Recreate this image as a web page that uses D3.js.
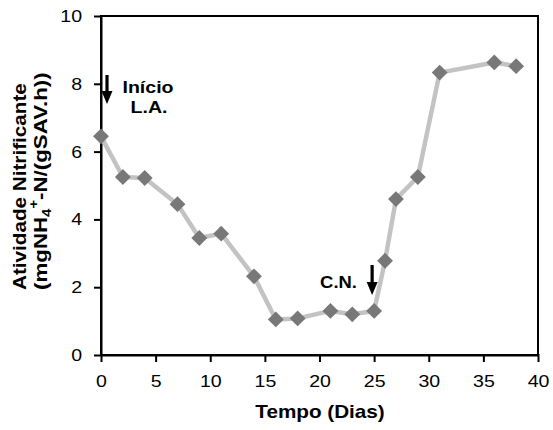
<!DOCTYPE html>
<html><head><meta charset="utf-8">
<script src="https://cdn.jsdelivr.net/npm/d3@7"></script>
<style>body{margin:0;background:#fff}svg{display:block}text{font-family:"Liberation Sans",Arial,sans-serif}</style>
</head><body>
<svg id="c" width="553" height="430"></svg>
<script>
const days = [0, 2, 4, 7, 9, 11, 14, 16, 18, 21, 23, 25, 26, 27, 29, 31, 36, 38];
const activity = [6.45, 5.25, 5.22, 4.45, 3.45, 3.58, 2.32, 1.05, 1.08, 1.3, 1.2, 1.3, 2.78, 4.6, 5.25, 8.33, 8.63, 8.52];
const xTicks = [0, 5, 10, 15, 20, 25, 30, 35, 40];
const yTicks = [0, 2, 4, 6, 8, 10];

const SX = 1.15; // horizontal stretch of the reference typography
const svg = d3.select("#c");
const x = d3.scaleLinear().domain([0, 40]).range([101, 538]);
const y = d3.scaleLinear().domain([0, 10]).range([355, 16]);

// frame
svg.append("rect").attr("x", 101).attr("y", 16).attr("width", 437).attr("height", 339)
  .attr("fill", "none").attr("stroke", "#000").attr("stroke-width", 2);

const xa = svg.append("g").attr("transform", "translate(0,355)")
  .call(d3.axisBottom(x).tickValues(xTicks).tickSize(6).tickSizeOuter(0));
const ya = svg.append("g").attr("transform", "translate(101,0)")
  .call(d3.axisLeft(y).tickValues(yTicks).tickSize(6).tickSizeOuter(0));
[xa, ya].forEach(a => {
  a.select(".domain").attr("stroke", "#000").attr("stroke-width", 2);
  a.selectAll(".tick line").attr("stroke", "#000").attr("stroke-width", 2);
  a.selectAll("text").attr("font-size", 17).attr("fill", "#000")
    .attr("font-family", "Liberation Sans, Arial, sans-serif")
    .attr("transform", `scale(${SX},1)`);
});
xa.selectAll(".tick line").attr("y1", -1).attr("y2", 7);
xa.selectAll("text").attr("y", 20);
ya.selectAll(".tick line").attr("x1", 1).attr("x2", -7);
ya.selectAll("text").attr("x", -19 / SX);

const pts = days.map((d, i) => [d, activity[i]]);
svg.append("path").datum(pts)
  .attr("d", d3.line().x(d => x(d[0])).y(d => y(d[1])))
  .attr("fill", "none").attr("stroke", "#c3c3c3").attr("stroke-width", 4.5).attr("stroke-linejoin", "round");

svg.selectAll(".m").data(pts).enter().append("path")
  .attr("d", d3.symbol(d3.symbolDiamond2 || d3.symbolDiamond, 160)())
  .attr("transform", d => `translate(${x(d[0])},${y(d[1])})`)
  .attr("fill", "#787878");

// arrows
function arrow(cx, y1, y2) {
  svg.append("line").attr("x1", cx).attr("x2", cx).attr("y1", y1).attr("y2", y2 - 10)
    .attr("stroke", "#000").attr("stroke-width", 3.2);
  svg.append("path").attr("d", `M${cx - 5.5},${y2 - 13} L${cx + 5.5},${y2 - 13} L${cx},${y2} Z`).attr("fill", "#000");
}
arrow(x(0) + 6, 75, 104);
arrow(x(25) - 2, 265, 295);

function label(txt, cx, by, fs) {
  svg.append("text").attr("transform", `translate(${cx},${by}) scale(${SX},1)`)
    .attr("text-anchor", "middle").attr("font-size", fs).attr("font-weight", "bold").text(txt);
}
label("Início", 148, 93, 17);
label("L.A.", 149, 113, 17);
label("C.N.", 338.5, 288, 16);
label("Tempo (Dias)", 320, 418, 18);

// y axis title (two lines)
svg.append("text").attr("transform", `translate(26,290) rotate(-90) scale(${SX},1)`)
  .attr("font-size", 18).attr("font-weight", "bold").text("Atividade Nitrificante");
const t2 = svg.append("text").attr("transform", `translate(47,290) rotate(-90) scale(1.24,1)`)
  .attr("font-size", 18).attr("font-weight", "bold");
t2.append("tspan").text("(mgNH");
t2.append("tspan").attr("font-size", 12).attr("dy", 4).text("4");
t2.append("tspan").attr("font-size", 12).attr("dy", -13).text("+");
t2.append("tspan").attr("dy", 9).text("-N/(gSAV.h))");
</script>
</body></html>
